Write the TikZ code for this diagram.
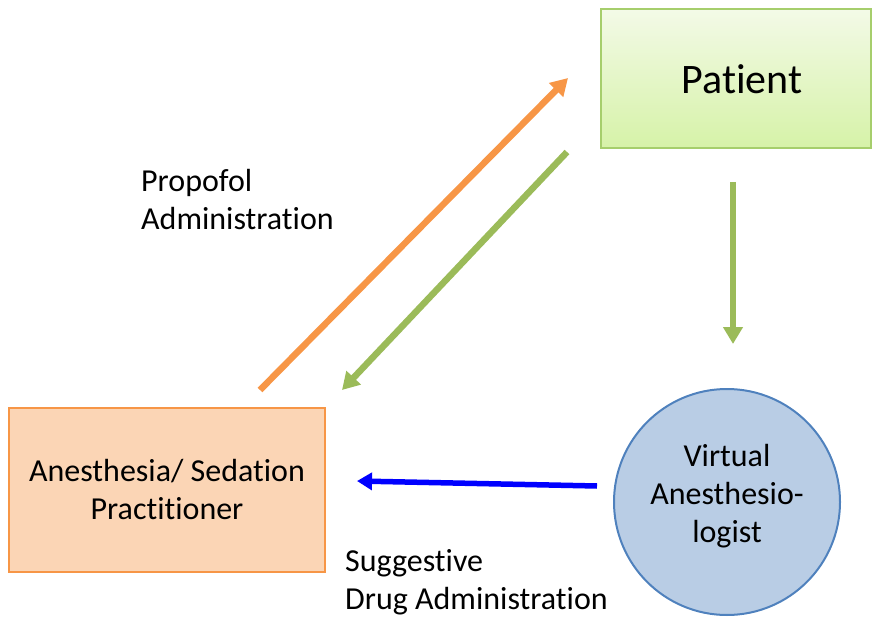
\documentclass[tikz,border=0pt]{standalone}
\usepackage{fontspec}
\setmainfont{Carlito}[Ligatures=NoCommon]
\usetikzlibrary{arrows.meta}
\definecolor{patfill1}{RGB}{243,250,231}
\definecolor{patfill2}{RGB}{214,242,168}
\definecolor{patline}{RGB}{166,206,108}
\definecolor{pracfill}{RGB}{251,213,181}
\definecolor{pracline}{RGB}{247,150,70}
\definecolor{vafill}{RGB}{185,205,229}
\definecolor{valine}{RGB}{79,129,189}
\definecolor{flowgreen}{RGB}{155,187,89}
\definecolor{floworange}{RGB}{247,150,70}
\begin{document}
\begin{tikzpicture}[x=1pt,y=-1pt,
  bodytext/.style={font=\fontsize{32}{38}\selectfont, align=center, inner sep=0pt},
  labeltext/.style={font=\fontsize{32}{38}\selectfont, align=left, inner sep=0pt, anchor=west},
  flow/.style={line width=6.5pt, -{Triangle[length=17pt,width=19pt]}},
]
\useasboundingbox (0,0) rectangle (872,617);

% participants
\node (patient) [draw=patline, line width=1.5pt, top color=patfill1, bottom color=patfill2,
  minimum width=270pt, minimum height=139pt, inner sep=0pt] at (736,78.5) {};
\node (pattext) [font=\fontsize{42}{48}\selectfont, inner sep=0pt] at (742,79) {Patient};
\node (prac) [draw=pracline, line width=2pt, fill=pracfill,
  minimum width=316pt, minimum height=164pt, bodytext] at (167,490)
  {Anesthesia/ Sedation\\Practitioner};
\node (va) [circle, draw=valine, line width=2pt, fill=vafill,
  minimum size=226pt, inner sep=0pt] at (727,502) {};
\node (vatext) [bodytext] at (727,496) {Virtual\\Anesthesio-\\logist};

% connector end points
\coordinate (o1) at (260,390);
\coordinate (o2) at (568,78);
\coordinate (g1) at (567,152);
\coordinate (g2) at (342,390);
\coordinate (v1) at (733,182);
\coordinate (v2) at (733,344);
\coordinate (b1) at (597,486);
\coordinate (b2) at (357,481);

% flows
\draw[flow, floworange] (o1) -- (o2);
\draw[flow, flowgreen] (g1) -- (g2);
\draw[flow, flowgreen] (v1) -- (v2);
\draw[flow, blue, line width=5.5pt, -{Triangle[length=15pt,width=17pt]}] (b1) -- (b2);

% labels
\node (lprop) [labeltext] at (141,200) {Propofol\\Administration};
\node (lsugg) [labeltext] at (345,582) {Suggestive\\Drug Administration};
\end{tikzpicture}
\end{document}
